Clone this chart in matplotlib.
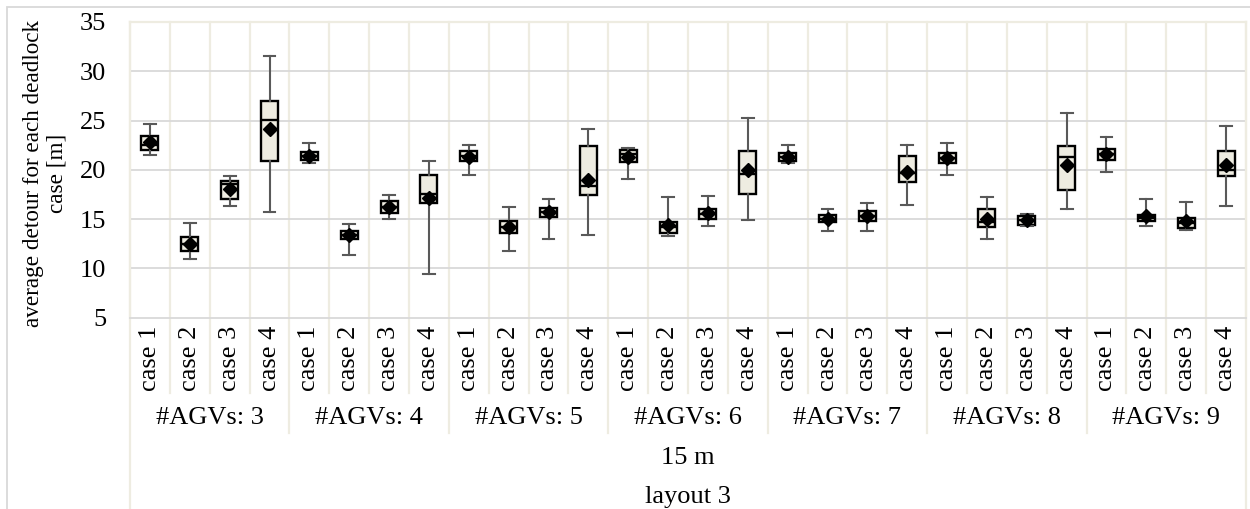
import numpy as np
import matplotlib
matplotlib.use("Agg")
import matplotlib.pyplot as plt
import matplotlib.transforms as mtransforms
from matplotlib.patches import Rectangle

plt.rcParams['font.family'] = ['Liberation Serif', 'DejaVu Serif']

groups = ['#AGVs: 3', '#AGVs: 4', '#AGVs: 5', '#AGVs: 6', '#AGVs: 7', '#AGVs: 8', '#AGVs: 9']
cases = ['case 1', 'case 2', 'case 3', 'case 4']

# box statistics per category (7 groups x 4 cases)
whislo = [21.5, 11.0, 16.3, 15.7, 20.7, 11.4, 15.0, 9.4,
          19.5, 11.8, 13.0, 13.4, 19.1, 13.3, 14.3, 14.9,
          20.7, 13.8, 13.8, 16.4, 19.5, 13.0, 14.3, 16.0,
          19.8, 14.3, 13.9, 16.3]
q1 = [22.0, 11.8, 17.0, 20.9, 21.0, 13.0, 15.6, 16.6,
      20.9, 13.6, 15.2, 17.4, 20.8, 13.6, 15.0, 17.5,
      20.9, 14.7, 14.8, 18.8, 20.7, 14.2, 14.4, 18.0,
      21.0, 14.8, 14.1, 19.4]
med = [22.5, 12.5, 18.6, 25.1, 21.4, 13.4, 16.2, 17.6,
       21.4, 14.2, 15.7, 18.4, 21.6, 14.2, 15.5, 19.6,
       21.3, 15.0, 15.3, 19.7, 21.2, 14.7, 14.9, 21.3,
       21.6, 15.1, 14.6, 20.0]
q3 = [23.4, 13.2, 18.9, 27.0, 21.8, 13.8, 16.8, 19.5,
      21.9, 14.8, 16.1, 22.4, 22.0, 14.7, 16.0, 21.9,
      21.7, 15.4, 15.8, 21.4, 21.7, 16.0, 15.3, 22.4,
      22.1, 15.4, 15.1, 21.9]
whishi = [24.7, 14.6, 19.4, 31.5, 22.7, 14.5, 17.4, 20.9,
          22.5, 16.2, 17.0, 24.1, 22.2, 17.2, 17.3, 25.3,
          22.5, 16.0, 16.6, 22.5, 22.7, 17.2, 15.5, 25.8,
          23.3, 17.0, 16.7, 24.4]
means = [22.8, 12.5, 18.1, 24.1, 21.4, 13.4, 16.2, 17.1,
         21.3, 14.2, 15.7, 19.0, 21.3, 14.4, 15.6, 20.0,
         21.3, 15.0, 15.3, 19.8, 21.2, 15.0, 14.9, 20.5,
         21.6, 15.3, 14.8, 20.5]

n = len(med)
stats = []
for i in range(n):
    stats.append(dict(whislo=whislo[i], q1=q1[i], med=med[i], q3=q3[i],
                      whishi=whishi[i], mean=means[i], fliers=[]))

beige = '#EEECE1'
grey = '#D9D9D9'
fs = 19

fig = plt.figure(figsize=(12.5, 5.09), dpi=100)
ax = fig.add_axes([130/1250, 1-317.7/509, (1246-130)/1250, (317.7-22)/509])

pos = np.arange(n)
ax.bxp(stats, positions=pos, widths=0.43, showmeans=True, patch_artist=True,
       boxprops=dict(facecolor=beige, edgecolor='black', linewidth=1.7),
       medianprops=dict(color='black', linewidth=1.7),
       whiskerprops=dict(color='#595959', linewidth=1.5),
       capprops=dict(color='#595959', linewidth=1.5),
       capwidths=0.3,
       meanprops=dict(marker='D', markerfacecolor='black', markeredgecolor='black',
                      markersize=7.5), zorder=3)

ax.set_xlim(-0.5, n - 0.5)
ax.set_ylim(5, 35)
ax.set_yticks(np.arange(5, 36, 5))
for yv in range(10, 35, 5):
    ax.axhline(yv, color=grey, lw=1.3, zorder=1)

trans = mtransforms.blended_transform_factory(ax.transData, ax.transAxes)
for k in range(n + 1):
    x = k - 0.5
    if k == 0 or k == n:
        y0 = -0.66
    elif k % 4 == 0:
        y0 = -0.39
    else:
        y0 = -0.255
    ax.plot([x, x], [y0, 1], color=beige, lw=1.6, transform=trans, clip_on=False, zorder=0.5)

for s in ['left', 'right', 'top']:
    ax.spines[s].set_color(beige)
    ax.spines[s].set_linewidth(1.6)
ax.spines['bottom'].set_color(grey)
ax.spines['bottom'].set_linewidth(1.3)

ax.set_xticks(pos)
ax.set_xticklabels(cases * len(groups), rotation=90, fontsize=fs)
ax.tick_params(axis='x', length=0, pad=6)
ax.tick_params(axis='y', length=0, pad=17, labelsize=fs)

for g, name in enumerate(groups):
    ax.text(4 * g + 1.5, -0.339, name, transform=trans, ha='center', va='center', fontsize=fs)
ax.text(0.5, -0.475, '15 m', transform=ax.transAxes, ha='center', va='center', fontsize=fs)
ax.text(0.5, -0.608, 'layout 3', transform=ax.transAxes, ha='center', va='center', fontsize=fs)

fig.text(45/1250, 1-173/509, 'average detour for each deadlock\ncase [m]', rotation=90,
         ha='center', va='center', fontsize=16.7, linespacing=1.15)

fig.patches.append(Rectangle((7/1250, -0.1), 1.2, 1.1 - 7/509, transform=fig.transFigure,
                             fill=False, edgecolor=grey, lw=1.3))

fig.savefig('out.png', dpi=100)
